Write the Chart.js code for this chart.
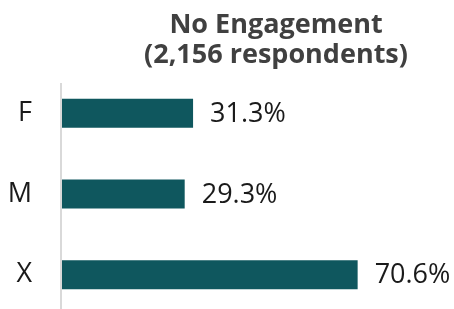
<!DOCTYPE html>
<html>
<head>
<meta charset="utf-8">
<script src="https://cdn.jsdelivr.net/npm/chart.js@4/dist/chart.umd.min.js"></script>
<style>
  html, body { margin:0; padding:0; background:#fff; overflow:hidden; }
  #wrap { width:454px; height:315px; position:relative; }
</style>
</head>
<body>
<div id="wrap"><canvas id="chart"></canvas></div>
<script>
// data
const titleLines = ['No Engagement', '(2,156 respondents)'];
const categories = ['F', 'M', 'X'];
const shares = [31.3, 29.3, 70.6];

const FONT = '"Open Sans", "Noto Sans", sans-serif';
const BAR = '#0f575e';

// title centred over the bars + value labels + short axis line
const decor = {
    id: 'decor',
    afterDatasetsDraw(chart) {
        const ctx = chart.ctx;
        const area = chart.chartArea;
        ctx.save();
        // axis line
        ctx.strokeStyle = '#d9d9d9';
        ctx.lineWidth = 2;
        ctx.beginPath();
        ctx.moveTo(area.left - 1, area.top + 10);
        ctx.lineTo(area.left - 1, chart.height);
        ctx.stroke();
        // value labels
        ctx.fillStyle = '#1a1a1a';
        ctx.font = '27px ' + FONT;
        ctx.textAlign = 'left';
        ctx.textBaseline = 'middle';
        chart.getDatasetMeta(0).data.forEach((bar, i) => {
            ctx.fillText(shares[i].toFixed(1) + '%', bar.x + 17, bar.y + 1);
        });
        // title
        ctx.fillStyle = '#404040';
        ctx.font = 'bold 27px ' + FONT;
        ctx.textAlign = 'center';
        ctx.textBaseline = 'alphabetic';
        titleLines.forEach((t, i) => ctx.fillText(t, 276, 33 + i * 30));
        ctx.restore();
    }
};

new Chart(document.getElementById('chart'), {
    type: 'bar',
    data: {
        labels: categories,
        datasets: [{ data: shares, backgroundColor: BAR, barPercentage: 0.36, categoryPercentage: 1 }]
    },
    options: {
        indexAxis: 'y',
        responsive: true,
        maintainAspectRatio: false,
        animation: false,
        layout: { padding: { top: 73, right: 57, bottom: 0, left: 0 } },
        plugins: { legend: { display: false }, tooltip: { enabled: false } },
        scales: {
            x: { display: false, min: 0, max: 80 },
            y: {
                afterFit(scale) {
                    scale.width = 62;
                    scale.paddingTop = 0;
                    scale.paddingBottom = 0;
                },
                grid: { display: false, drawTicks: false },
                border: { display: false },
                ticks: { color: '#1a1a1a', font: { family: FONT, size: 27 }, padding: 30 }
            }
        }
    },
    plugins: [decor]
});
</script>
</body>
</html>
